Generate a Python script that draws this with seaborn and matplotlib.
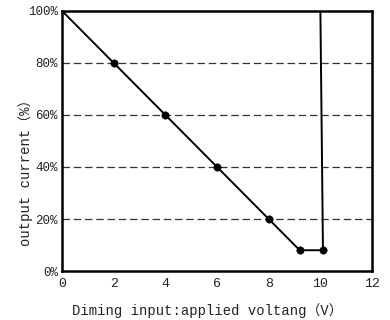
import matplotlib
matplotlib.use("Agg")
import matplotlib.pyplot as plt
import seaborn as sns
import pandas as pd

# curve (volts, percent)
voltage = [0, 2, 4, 6, 8, 9.2, 10.1, 10.0]
current = [100, 80, 60, 40, 20, 8, 8, 100]
# dots only on the measured points
dot_v = [2, 4, 6, 8, 9.2, 10.1]
dot_c = [80, 60, 40, 20, 8, 8]

x_ticks = [0, 2, 4, 6, 8, 10, 12]
y_ticks = [0, 20, 40, 60, 80, 100]
y_labels = ["0%", "20%", "40%", "60%", "80%", "100%"]
grid_levels = [20, 40, 60, 80]

sns.set_style("white")
plt.rcParams['font.family'] = ['Liberation Mono', 'Noto Sans CJK SC']

fig = plt.figure(figsize=(3.9, 3.2), dpi=100)
ax = fig.add_axes([0.159, 0.153, 0.795, 0.813])

for lvl in grid_levels:
    ax.axhline(lvl, color="#333333", lw=0.9, ls=(0, (6, 3)), zorder=1)

df = pd.DataFrame({"v": voltage, "c": current})
sns.lineplot(data=df, x="v", y="c", sort=False, color="black", lw=1.4, ax=ax, zorder=3)
sns.scatterplot(x=dot_v, y=dot_c, color="black", s=28, edgecolor="black", ax=ax, zorder=4)

ax.set_xlim(0, 12)
ax.set_ylim(0, 100)
ax.set_xticks(x_ticks)
ax.set_yticks(y_ticks)
ax.set_yticklabels(y_labels)
ax.tick_params(axis="x", direction="in", length=3, width=1, labelsize=9.5, pad=5, colors="#222222")
ax.tick_params(axis="y", length=0, labelsize=9, pad=3, colors="#222222")
for s in ax.spines.values():
    s.set_linewidth(1.8)
    s.set_color("black")

ax.set_xlabel("Diming input:applied voltang（V）", fontsize=10, color="#222222")
ax.set_ylabel("output current（%）", fontsize=10, color="#222222")
ax.xaxis.set_label_coords(0.47, -0.125)
ax.yaxis.set_label_coords(-0.095, 0.39)

fig.savefig("out.png", dpi=100)
